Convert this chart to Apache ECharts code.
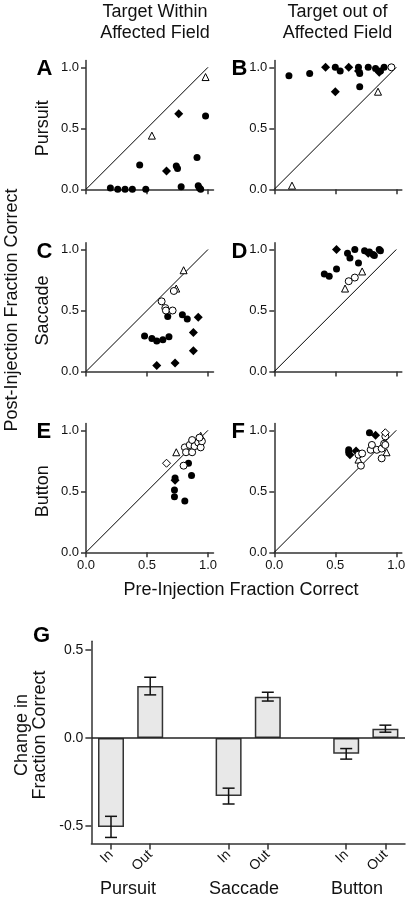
<!DOCTYPE html>
<html>
<head>
<meta charset="utf-8">
<script src="https://cdn.jsdelivr.net/npm/echarts@6/dist/echarts.min.js"></script>
<style>
html,body{margin:0;padding:0;background:#fff;}
#chart{width:410px;height:898px;}
</style>
</head>
<body>
<div id="chart"></div>
<script>
// ---------- DATA ----------
// Panel A: Pursuit, target within affected field  [pre, post]
const A_filledCircle = [[0.20,0.01],[0.26,0.0],[0.32,0.0],[0.38,0.0],[0.49,0.0],[0.44,0.20],[0.74,0.19],[0.75,0.17],[0.91,0.26],[0.98,0.60],[0.78,0.02],[0.92,0.03],[0.93,0.01],[0.94,0.0]];
const A_filledDiamond = [[0.76,0.62],[0.66,0.15]];
const A_openTriangle = [[0.98,0.92],[0.54,0.44]];
const A_openCircle = [];
const A_openDiamond = [];
// Panel B: Pursuit, target out of affected field
const B_filledCircle = [[0.12,0.93],[0.29,0.95],[0.50,1.0],[0.54,0.97],[0.69,1.0],[0.70,0.95],[0.77,1.0],[0.83,0.99],[0.87,0.97],[0.90,1.0],[0.70,0.84]];
const B_filledDiamond = [[0.42,1.0],[0.61,1.0],[0.69,0.97],[0.86,0.96],[0.50,0.80]];
const B_openTriangle = [[0.85,0.80],[0.145,0.03]];
const B_openCircle = [[0.96,1.0]];
const B_openDiamond = [];
// Panel C: Saccade, within
const C_filledCircle = [[0.48,0.29],[0.54,0.27],[0.58,0.25],[0.63,0.26],[0.68,0.285],[0.67,0.45],[0.79,0.465],[0.83,0.43]];
const C_filledDiamond = [[0.92,0.445],[0.88,0.32],[0.88,0.17],[0.58,0.05],[0.73,0.07]];
const C_openTriangle = [[0.80,0.83],[0.74,0.68]];
const C_openCircle = [[0.72,0.66],[0.62,0.575],[0.65,0.52],[0.655,0.50],[0.71,0.50]];
const C_openDiamond = [];
// Panel D: Saccade, out
const D_filledCircle = [[0.66,1.0],[0.60,0.97],[0.62,0.93],[0.74,0.99],[0.78,0.98],[0.81,0.96],[0.82,0.95],[0.86,1.0],[0.87,0.99],[0.69,0.89],[0.41,0.80],[0.45,0.78],[0.51,0.84]];
const D_filledDiamond = [[0.51,1.0],[0.77,0.97]];
const D_openTriangle = [[0.72,0.82],[0.58,0.68]];
const D_openCircle = [[0.61,0.74],[0.66,0.77]];
const D_openDiamond = [];
// Panel E: Button, within
const E_filledCircle = [[0.84,0.73],[0.865,0.63],[0.725,0.51],[0.725,0.455],[0.81,0.42],[0.73,0.61]];
const E_filledDiamond = [[0.73,0.59]];
const E_openTriangle = [[0.74,0.82],[0.94,0.955]];
const E_openCircle = [[0.80,0.71],[0.81,0.86],[0.82,0.82],[0.85,0.88],[0.87,0.92],[0.87,0.82],[0.89,0.87],[0.92,0.90],[0.94,0.86],[0.95,0.91],[0.93,0.94]];
const E_openDiamond = [[0.66,0.73]];
// Panel F: Button, out
const F_filledCircle = [[0.61,0.84],[0.61,0.82],[0.78,0.98]];
const F_filledDiamond = [[0.62,0.80],[0.67,0.83],[0.83,0.96]];
const F_openTriangle = [[0.69,0.76],[0.92,0.82]];
const F_openCircle = [[0.71,0.71],[0.69,0.80],[0.72,0.81],[0.79,0.84],[0.80,0.88],[0.84,0.84],[0.88,0.85],[0.90,0.89],[0.91,0.95],[0.88,0.77],[0.91,0.88]];
const F_openDiamond = [[0.91,0.98]];
const diagonal = [[0,0],[1,1]];
const scatterTicks = [0, 0.5, 1];

// Panel G: change in fraction correct
const barCategories = ['In','Out','','In','Out','','In','Out'];
const barMeans = [-0.505, 0.295, '-', -0.33, 0.235, '-', -0.09, 0.053];
const barErrors = [0.06, 0.05, null, 0.045, 0.025, null, 0.03, 0.02];
const barTicks = [-0.5, 0, 0.5];
const groupLabels = ['Pursuit','Saccade','Button'];
const rowLabels = ['Pursuit','Saccade','Button'];
const columnTitles = ['Target Within\nAffected Field','Target out of\nAffected Field'];
const panelLetters = ['A','B','C','D','E','F'];

// ---------- LAYOUT ----------
const FONT = '"Liberation Sans", Arial, Helvetica, sans-serif';
const S = 122;           // px per unit in scatter panels
const XMAX = 1.045, YMAX = 1.055;
const colX0 = [86, 274.3];
const rowY0 = [189.3, 371.5, 552.3];
const panels = [
  {c:0,r:0,d:[A_filledCircle,A_filledDiamond,A_openTriangle,A_openCircle,A_openDiamond]},
  {c:1,r:0,d:[B_filledCircle,B_filledDiamond,B_openTriangle,B_openCircle,B_openDiamond]},
  {c:0,r:1,d:[C_filledCircle,C_filledDiamond,C_openTriangle,C_openCircle,C_openDiamond]},
  {c:1,r:1,d:[D_filledCircle,D_filledDiamond,D_openTriangle,D_openCircle,D_openDiamond]},
  {c:0,r:2,d:[E_filledCircle,E_filledDiamond,E_openTriangle,E_openCircle,E_openDiamond]},
  {c:1,r:2,d:[F_filledCircle,F_filledDiamond,F_openTriangle,F_openCircle,F_openDiamond]}
];
const markerStyles = [
  {symbol:'circle', size:7, fill:'#000', border:'#000', bw:0},
  {symbol:'diamond', size:9, fill:'#000', border:'#000', bw:0},
  {symbol:'triangle', size:7, fill:'#fff', border:'#000', bw:1},
  {symbol:'circle', size:7, fill:'#fff', border:'#000', bw:1},
  {symbol:'diamond', size:8, fill:'#fff', border:'#000', bw:1}
];

const grid = [], xAxis = [], yAxis = [], series = [], graphic = [];
const axisLineStyle = {color:'#333', width:1.5};
const labelStyle = {fontFamily:FONT, fontSize:13, color:'#111'};

panels.forEach((p, i) => {
  const x0 = colX0[p.c], y0 = rowY0[p.r];
  grid.push({left:x0, top:y0 - YMAX*S, width:XMAX*S, height:YMAX*S, containLabel:false});
  xAxis.push({type:'value', gridIndex:i, min:0, max:XMAX,
    axisLine:{show:true, onZero:false, lineStyle:axisLineStyle},
    axisTick:{show:true, length:5, customValues:scatterTicks, lineStyle:axisLineStyle},
    axisLabel:{show: p.r === 2, customValues:scatterTicks, margin:7, formatter:v=>v.toFixed(1), ...labelStyle},
    splitLine:{show:false}});
  yAxis.push({type:'value', gridIndex:i, min:0, max:YMAX,
    axisLine:{show:true, onZero:false, lineStyle:axisLineStyle},
    axisTick:{show:true, length:5, customValues:scatterTicks, lineStyle:axisLineStyle},
    axisLabel:{show:true, customValues:scatterTicks, margin:7, formatter:v=>v.toFixed(1), ...labelStyle},
    splitLine:{show:false}});
  series.push({type:'line', xAxisIndex:i, yAxisIndex:i, data:diagonal, symbol:'none',
    lineStyle:{color:'#000', width:1}, silent:true, z:1});
  p.d.forEach((arr, k) => {
    const m = markerStyles[k];
    if (!arr.length) return;
    series.push({type:'scatter', xAxisIndex:i, yAxisIndex:i, data:arr, symbol:m.symbol, symbolSize:m.size,
      itemStyle:{color:m.fill, borderColor:m.border, borderWidth:m.bw, opacity:1}, z:3+k, silent:true});
  });
  graphic.push({type:'text', left:(p.c===0?36.5:231.5), top:(y0 - S) - 9,
    style:{text:panelLetters[i], font:'bold 22px ' + FONT, fill:'#000'}});
});

// Panel G (bar chart)
const gi = 6;
const G_TOP = 641.2, G_BOT = 843.6;
grid.push({left:91.4, top:G_TOP, width:405 - 91.4, height:G_BOT - G_TOP, containLabel:false});
xAxis.push({type:'category', gridIndex:gi, data:barCategories, boundaryGap:true,
  axisLine:{show:true, onZero:false, lineStyle:axisLineStyle},
  axisTick:{show:true, alignWithLabel:true, length:6, interval:(idx, val)=>val !== '', lineStyle:axisLineStyle},
  axisLabel:{show:true, interval:0, rotate:45, margin:9, fontFamily:FONT, fontSize:14, color:'#111'},
  splitLine:{show:false}});
yAxis.push({type:'value', gridIndex:gi, min:-0.6, max:0.55,
  axisLine:{show:true, onZero:false, lineStyle:axisLineStyle},
  axisTick:{show:true, length:6, customValues:barTicks, lineStyle:axisLineStyle},
  axisLabel:{show:true, customValues:barTicks, margin:8, formatter:v=>v.toFixed(1), fontFamily:FONT, fontSize:14, color:'#111'},
  splitLine:{show:false}});
series.push({type:'bar', xAxisIndex:gi, yAxisIndex:gi, data:barMeans, barWidth:26,
  itemStyle:{color:'#e8e8e8', borderColor:'#333', borderWidth:1.5}, silent:true, z:2,
  markLine:{silent:true, symbol:'none', label:{show:false}, data:[{yAxis:0}],
    lineStyle:{color:'#222', width:1.5, type:'solid'}, animation:false}});
series.push({type:'custom', xAxisIndex:gi, yAxisIndex:gi, z:5, silent:true,
  data: barMeans.map((m, i) => m === '-' ? null : [i, m, barErrors[i]]).filter(d => d),
  renderItem: function(params, api) {
    const x = api.value(0), m = api.value(1), e = api.value(2);
    const top = api.coord([x, m + e]);
    const bot = api.coord([x, m - e]);
    const h = 6;
    const st = {stroke:'#111', lineWidth:1.5};
    return {type:'group', children:[
      {type:'line', shape:{x1:top[0], y1:top[1], x2:bot[0], y2:bot[1]}, style:st},
      {type:'line', shape:{x1:top[0]-h, y1:top[1], x2:top[0]+h, y2:top[1]}, style:st},
      {type:'line', shape:{x1:bot[0]-h, y1:bot[1], x2:bot[0]+h, y2:bot[1]}, style:st}
    ]};
  }});

// Text labels
const titleFont = '18px ' + FONT;
graphic.push({type:'text', x:155, y:2, style:{text:columnTitles[0], font:titleFont, fill:'#111', align:'center', verticalAlign:'top', lineHeight:21}});
graphic.push({type:'text', x:337.5, y:2, style:{text:columnTitles[1], font:titleFont, fill:'#111', align:'center', verticalAlign:'top', lineHeight:21}});
rowLabels.forEach((t, r) => {
  graphic.push({type:'text', x:43, y:rowY0[r] - 0.5*S, rotation:Math.PI/2,
    style:{text:t, font:titleFont, fill:'#111', align:'center', verticalAlign:'middle'}});
});
graphic.push({type:'text', x:12.5, y:310, rotation:Math.PI/2,
  style:{text:'Post-Injection Fraction Correct', font:titleFont, fill:'#111', align:'center', verticalAlign:'middle'}});
graphic.push({type:'text', x:241, y:590,
  style:{text:'Pre-Injection Fraction Correct', font:titleFont, fill:'#111', align:'center', verticalAlign:'middle'}});
graphic.push({type:'text', x:31, y:735, rotation:Math.PI/2,
  style:{text:'Change in\nFraction Correct', font:titleFont, fill:'#111', align:'center', verticalAlign:'middle', lineHeight:18}});
graphic.push({type:'text', left:33, top:625, style:{text:'G', font:'bold 22px ' + FONT, fill:'#000'}});
const groupX = [128, 244, 357];
groupLabels.forEach((t, i) => {
  graphic.push({type:'text', x:groupX[i], y:889,
    style:{text:t, font:titleFont, fill:'#111', align:'center', verticalAlign:'middle'}});
});

const chart = echarts.init(document.getElementById('chart'), null, {renderer:'canvas'});
chart.setOption({animation:false, backgroundColor:'#fff', grid, xAxis, yAxis, series, graphic});
</script>
</body>
</html>
